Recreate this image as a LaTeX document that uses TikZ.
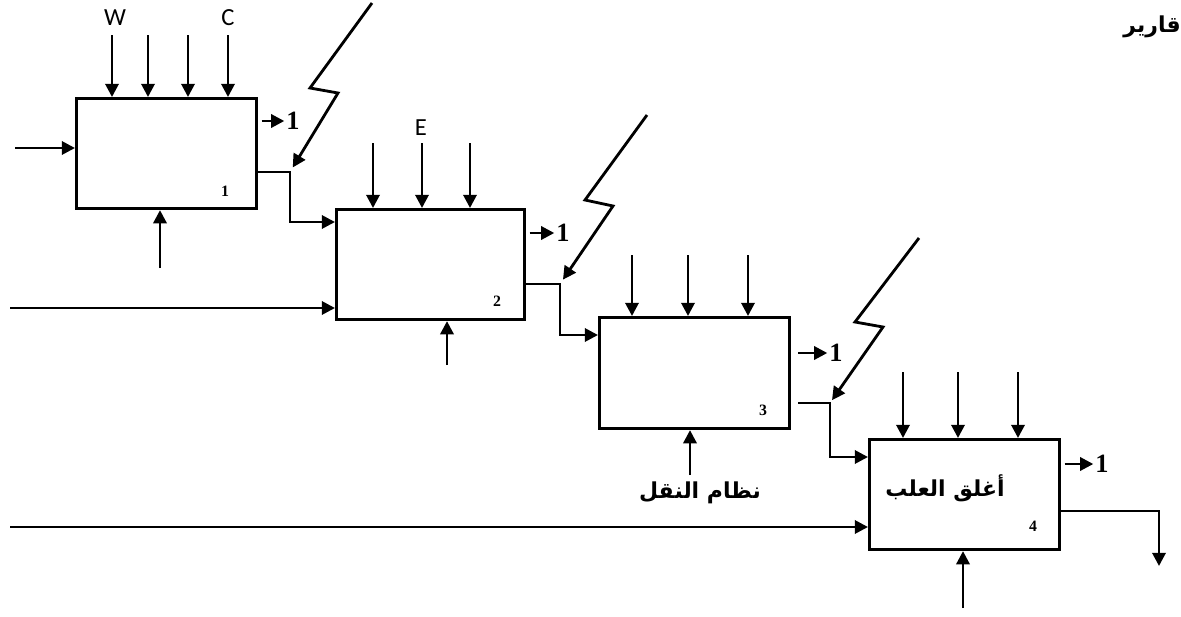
\documentclass[tikz,border=0pt]{standalone}
\usepackage{fontspec}
\setmainfont{Liberation Serif}
\newfontfamily\arabicfont[Script=Arabic]{DejaVu Sans}
\newfontfamily\latinsans{Carlito}
\TeXXeTstate=1
\usetikzlibrary{arrows.meta,calc}

\begin{document}
\begin{tikzpicture}[x=0.02cm, y=-0.02cm]

\tikzset{
    stage/.style={draw, line width=1.8pt, minimum height=2.2cm, anchor=north west, inner sep=0pt},
    arr/.style={line width=1.6pt, -{Triangle[length=7.5pt, width=7.5pt]}},
    one/.style={font=\fontsize{15}{15}\selectfont\bfseries, inner sep=1pt},
    num/.style={font=\fontsize{9}{9}\selectfont\bfseries, inner sep=0pt},
    lbl/.style={font=\latinsans\fontsize{14}{14}\selectfont, inner sep=0pt},
    artext/.style={font=\arabicfont\bfseries\fontsize{12.5}{14}\selectfont, inner sep=0pt}
}
\useasboundingbox (0,0) rectangle (1181,616);

% the four stages
\node[stage, minimum width=3.6cm] (box1) at (75,97) {};
\node[stage, minimum width=3.76cm] (box2) at (335,208) {};
\node[stage, minimum width=3.8cm, minimum height=2.22cm] (box3) at (598,316) {};
\node[stage, minimum width=3.8cm] (box4) at (868,438) {};

\node[num] at (225,191) {1};
\node[num] at (497,301) {2};
\node[num] at (763,410) {3};
\node[num] at (1033,526) {4};
\node[artext] (txt4) at (945,488) {\beginR أغلق العلب\endR};

% inputs from above
\foreach \x in {112,148,188,228} \draw[arr] (\x,35) -- (\x,0 |- box1.north);
\foreach \x in {373,422,470} \draw[arr] (\x,143) -- (\x,0 |- box2.north);
\foreach \x in {632,688,748} \draw[arr] (\x,255) -- (\x,0 |- box3.north);
\foreach \x in {903,958,1018} \draw[arr] (\x,372) -- (\x,0 |- box4.north);
\node[lbl] (w) at (115,18) {W};
\node[lbl] (c) at (228,18) {C};
\node[lbl] (e) at (421,128) {E};

% inputs from below
\draw[arr] (160,268) -- (160,0 |- box1.south);
\draw[arr] (447,365) -- (447,0 |- box2.south);
\draw[arr] (690,475) -- (690,0 |- box3.south);
\draw[arr] (963,608) -- (963,0 |- box4.south);
\node[artext] (transport) at (700,493) {\beginR نظام النقل\endR};

% inputs from the left
\coordinate (in1) at (15,148);
\coordinate (in2) at (10,308);
\coordinate (in4) at (10,527);
\draw[arr] (in1) -- (in1 -| box1.west);
\draw[arr] (in2) -- (in2 -| box2.west);
\draw[arr] (in4) -- (in4 -| box4.west);

% side outputs
\node[one] (o1) at (293,121) {1};
\node[one] (o2) at (563,233) {1};
\node[one] (o3) at (836,353) {1};
\node[one] (o4) at (1102,464) {1};
\draw[arr, shorten <=2pt] (box1.east |- o1) -- (o1.west);
\draw[arr, shorten <=2pt] (box2.east |- o2) -- (o2.west);
\draw[arr, shorten <=4pt] (box3.east |- o3) -- (o3.west);
\draw[arr, shorten <=2pt] (box4.east |- o4) -- (o4.west);

% links between stages
\coordinate (j1) at (290,172);
\coordinate (j2) at (560,284);
\coordinate (j3) at (830,403);
\draw[arr] (box1.east |- j1) -- (j1) |- ($(box2.north west)+(0,14)$);
\draw[arr] (box2.east |- j2) -- (j2) |- ($(box3.north west)+(0,19)$);
\draw[arr, shorten <=4pt] (box3.east |- j3) -- (j3) |- ($(box4.north west)+(0,19)$);
\coordinate (out4) at (1159,511);
\draw[arr] (box4.east |- out4) -- (out4) -- ++(0,55);

% lightning arrows
\draw[arr, shorten >=3pt] (372,3) -- (310,88) -- (338,93) -- (j1);
\draw[arr, shorten >=3pt] (647,115) -- (585,200) -- (613,206) -- (j2);
\draw[arr, shorten >=2pt] (919,238) -- (855,322) -- (883,327) -- (j3);

% cut-off word at the top right
\node[artext, anchor=east] (rep) at (1181,27) {\beginR قارير\endR};

\end{tikzpicture}
\end{document}
